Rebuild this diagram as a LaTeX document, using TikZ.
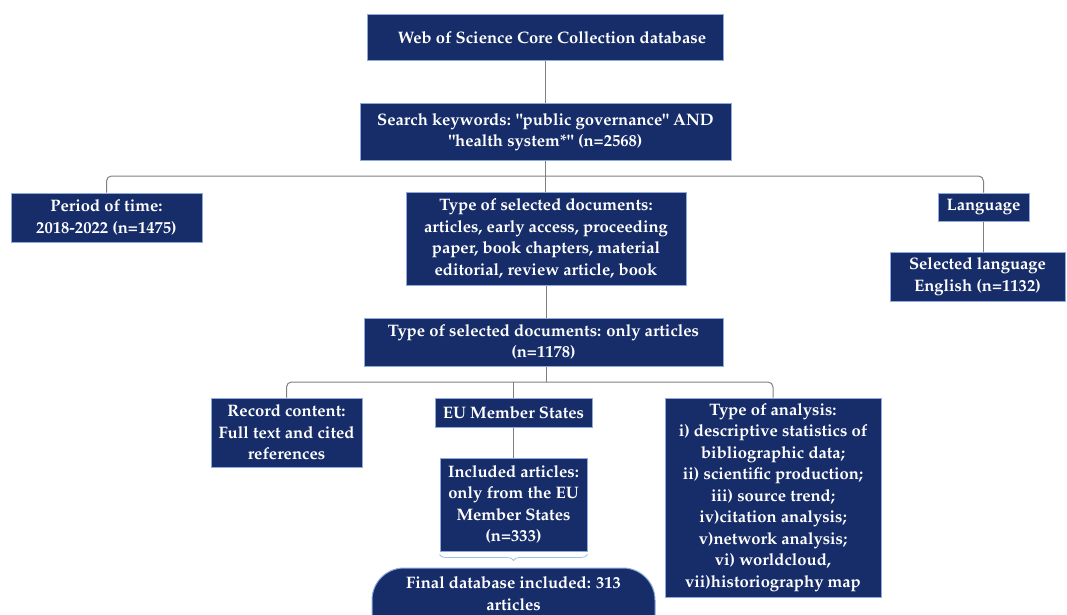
\documentclass[tikz,border=0pt]{standalone}
\usepackage[T1]{fontenc}
\usepackage{mathpazo}
\usetikzlibrary{decorations.pathreplacing}
\definecolor{navy}{HTML}{172D69}
\definecolor{edge}{HTML}{8EAADB}
\definecolor{conn}{HTML}{7F7F7F}
\definecolor{bracec}{HTML}{9DC3E6}
\tikzset{
  box/.style={draw=edge, fill=navy, line width=1pt, text=white, align=center,
    inner sep=0pt, font=\bfseries\fontsize{16.6}{21.5}\selectfont},
  link/.style={draw=conn, line width=1pt, rounded corners=5pt},
}
\begin{document}
\begin{tikzpicture}[x=1pt,y=-1pt]
\useasboundingbox (0,0) rectangle (1067,615);
\node[box, minimum width=356pt, minimum height=46pt] (wos) at (545,38) {\hspace*{14pt}Web of Science Core Collection database};
\node[box, minimum width=371pt, minimum height=56pt] (search) at (545.5,132) {Search keywords: \textquotedbl public governance\textquotedbl{} AND\\ \textquotedbl health system*\textquotedbl{} (n=2568)};
\node[box, minimum width=191pt, minimum height=49pt] (period) at (106.5,217.5) {Period of time:\\2018-2022 (n=1475)};
\node[box, minimum width=280pt, minimum height=93pt] (docs) at (546,238.5) {Type of selected documents:\\articles, early access, proceeding\\paper, book chapters, material\\editorial, review article, book};
\node[box, minimum width=91pt, minimum height=28pt] (lang) at (983.5,207) {Language};
\node[box, minimum width=175pt, minimum height=49pt] (sellang) at (977.5,276.5) {Selected language\\English (n=1132)};
\node[box, minimum width=359pt, minimum height=48pt] (only) at (543.5,342) {Type of selected documents: only articles\\(n=1178)};
\node[box, minimum width=151pt, minimum height=69pt] (record) at (286.5,432.5) {Record content:\\Full text and cited\\references};
\node[box, minimum width=157pt, minimum height=29pt] (eu) at (513.5,412.5) {EU Member States};
\node[box, minimum width=147pt, minimum height=93pt] (incl) at (513.5,504.5) {Included articles:\\only from the EU\\Member States\\(n=333)};
\node[box, minimum width=216pt, minimum height=199pt] (analysis) at (773,497.5) {Type of analysis:\\i) descriptive statistics of\\bibliographic data;\\ii) scientific production;\\iii) source trend;\\iv)citation analysis;\\v)network analysis;\\vi) worldcloud,\\vii)historiography map};
% final database shape
\path[draw=edge, fill=navy, line width=1pt, rounded corners=32pt] (372,568) rectangle (655,660);
\node[box, draw=none, fill=none, anchor=north] (final) at (513.5,576) {Final database included: 313\\articles};
% connectors
\draw[link] (wos.south) -- (wos.south |- search.north);
\coordinate (bus1) at (545,176);
\draw[link] (period.north) |- (bus1) -| (lang.north);
\draw[link] (search.south -| bus1) -- (docs.north -| bus1);
\draw[link] (docs.south) -- (docs.south |- only.north);
\draw[link] (lang.south) -- (lang.south |- sellang.north);
\coordinate (bus2) at (546,382);
\draw[link] (only.south -| bus2) -- (bus2);
\draw[link] (record.north) |- (bus2) -| (analysis.north);
\draw[link] (eu.north) -- (eu.north |- bus2);
\draw[link] (eu.south) -- (incl.north);
\draw[draw=bracec, line width=0.8pt, decorate, decoration={brace, mirror, amplitude=6pt}] ([yshift=-3pt]incl.south west) -- ([yshift=-3pt]incl.south east);
\end{tikzpicture}
\end{document}
